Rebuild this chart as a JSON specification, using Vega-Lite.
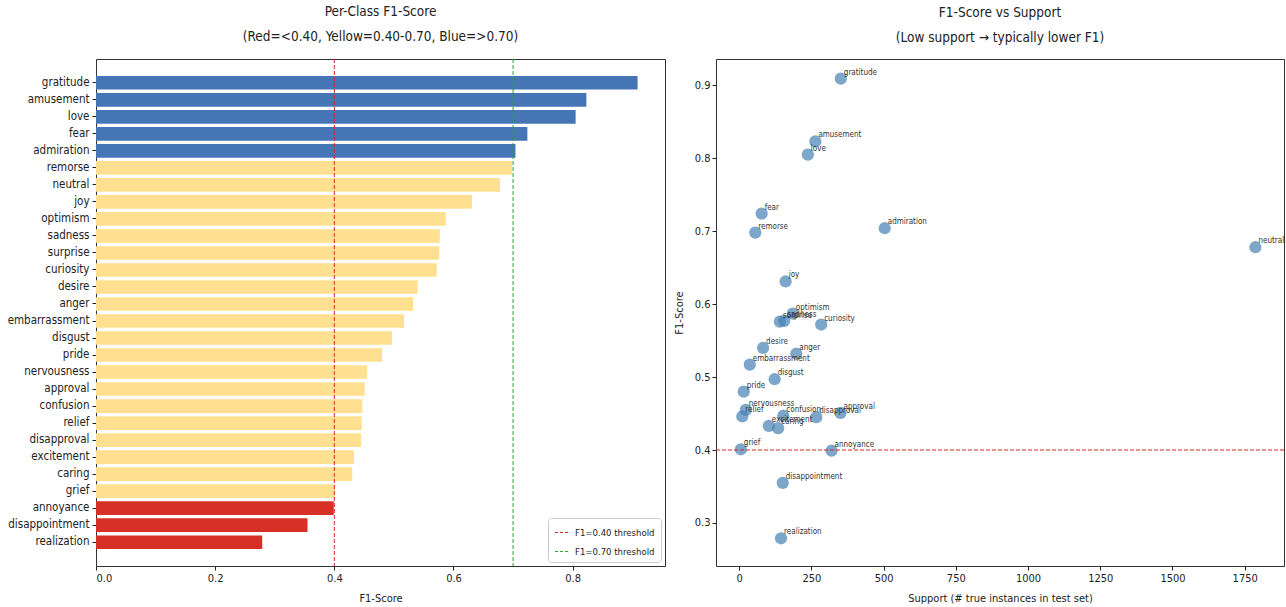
{
  "$schema": "https://vega.github.io/schema/vega-lite/v6.json",
  "background": "white",
  "padding": {"left": 6, "top": 4, "right": 4, "bottom": 4},
  "config": {
    "font": "DejaVu Sans Condensed",
    "view": {"stroke": "#333333", "strokeWidth": 1},
    "axis": {
      "grid": false,
      "domain": false,
      "tickColor": "#222222",
      "tickSize": 4,
      "labelColor": "#222222",
      "labelFontSize": 11,
      "titleFontSize": 11,
      "titleFontWeight": "normal",
      "titleColor": "#222222"
    },
    "title": {"fontSize": 13.5, "fontWeight": "normal", "color": "#222222", "lineHeight": 25, "offset": 15},
    "concat": {"spacing": 6}
  },
  "resolve": {"legend": {"stroke": "independent"}, "scale": {"stroke": "independent"}},
  "datasets": {
    "emotions": [
      {"emotion": "gratitude", "f1": 0.909, "support": 352, "tier": "high"},
      {"emotion": "amusement", "f1": 0.823, "support": 264, "tier": "high"},
      {"emotion": "love", "f1": 0.805, "support": 238, "tier": "high"},
      {"emotion": "fear", "f1": 0.724, "support": 78, "tier": "high"},
      {"emotion": "admiration", "f1": 0.704, "support": 504, "tier": "high"},
      {"emotion": "remorse", "f1": 0.698, "support": 56, "tier": "mid"},
      {"emotion": "neutral", "f1": 0.678, "support": 1787, "tier": "mid"},
      {"emotion": "joy", "f1": 0.631, "support": 161, "tier": "mid"},
      {"emotion": "optimism", "f1": 0.587, "support": 186, "tier": "mid"},
      {"emotion": "sadness", "f1": 0.577, "support": 156, "tier": "mid"},
      {"emotion": "surprise", "f1": 0.576, "support": 141, "tier": "mid"},
      {"emotion": "curiosity", "f1": 0.572, "support": 284, "tier": "mid"},
      {"emotion": "desire", "f1": 0.540, "support": 83, "tier": "mid"},
      {"emotion": "anger", "f1": 0.532, "support": 198, "tier": "mid"},
      {"emotion": "embarrassment", "f1": 0.517, "support": 37, "tier": "mid"},
      {"emotion": "disgust", "f1": 0.497, "support": 123, "tier": "mid"},
      {"emotion": "pride", "f1": 0.480, "support": 16, "tier": "mid"},
      {"emotion": "nervousness", "f1": 0.455, "support": 23, "tier": "mid"},
      {"emotion": "approval", "f1": 0.451, "support": 351, "tier": "mid"},
      {"emotion": "confusion", "f1": 0.447, "support": 153, "tier": "mid"},
      {"emotion": "relief", "f1": 0.446, "support": 11, "tier": "mid"},
      {"emotion": "disapproval", "f1": 0.445, "support": 267, "tier": "mid"},
      {"emotion": "excitement", "f1": 0.433, "support": 103, "tier": "mid"},
      {"emotion": "caring", "f1": 0.430, "support": 135, "tier": "mid"},
      {"emotion": "grief", "f1": 0.401, "support": 6, "tier": "mid"},
      {"emotion": "annoyance", "f1": 0.399, "support": 320, "tier": "low"},
      {"emotion": "disappointment", "f1": 0.355, "support": 151, "tier": "low"},
      {"emotion": "realization", "f1": 0.279, "support": 145, "tier": "low"}
    ],
    "thresholds": [
      {"label": "F1=0.40 threshold", "value": 0.4},
      {"label": "F1=0.70 threshold", "value": 0.7}
    ]
  },
  "hconcat": [
    {
      "width": 569,
      "height": 507,
      "title": {"text": ["Per-Class F1-Score", "(Red=<0.40, Yellow=0.40-0.70, Blue=>0.70)"]},
      "layer": [
        {
          "data": {"name": "emotions"},
          "mark": {"type": "bar"},
          "encoding": {
            "y": {
              "field": "emotion",
              "type": "nominal",
              "sort": {"field": "f1", "order": "descending"},
              "scale": {"paddingInner": 0.2, "paddingOuter": 1.39},
              "axis": {"title": null, "labelFontSize": 11.5, "labelPadding": 3}
            },
            "x": {
              "field": "f1",
              "type": "quantitative",
              "scale": {"domain": [0, 0.955], "nice": false, "zero": true},
              "axis": {"title": "F1-Score", "values": [0, 0.2, 0.4, 0.6, 0.8], "format": ".1f", "titlePadding": 9}
            },
            "fill": {
              "field": "tier",
              "type": "nominal",
              "scale": {"domain": ["low", "mid", "high"], "range": ["#d73027", "#fee090", "#4575b4"]},
              "legend": null
            }
          }
        },
        {
          "data": {"name": "thresholds"},
          "mark": {"type": "rule", "strokeDash": [4, 2], "strokeWidth": 1},
          "encoding": {
            "x": {"field": "value", "type": "quantitative"},
            "stroke": {
              "field": "label",
              "type": "nominal",
              "scale": {"domain": ["F1=0.40 threshold", "F1=0.70 threshold"], "range": ["#d62728", "#2ca02c"]},
              "legend": {
                "title": null,
                "orient": "bottom-right",
                "offset": 4,
                "symbolType": "stroke",
                "symbolDash": [3, 2],
                "symbolStrokeWidth": 1.2,
                "symbolSize": 220,
                "labelFontSize": 9.5,
                "labelColor": "#222222",
                "fillColor": "white",
                "strokeColor": "#cccccc",
                "cornerRadius": 3,
                "padding": 6,
                "rowPadding": 6
              }
            }
          }
        }
      ]
    },
    {
      "width": 568,
      "height": 507,
      "title": {"text": ["F1-Score vs Support", "(Low support \u2192 typically lower F1)"]},
      "layer": [
        {
          "data": {"name": "emotions"},
          "mark": {"type": "circle", "size": 150, "color": "#4682b4", "opacity": 0.7},
          "encoding": {
            "x": {
              "field": "support",
              "type": "quantitative",
              "scale": {"domain": [-80, 1886], "nice": false, "zero": false},
              "axis": {"title": "Support (# true instances in test set)", "values": [0, 250, 500, 750, 1000, 1250, 1500, 1750], "format": "d", "titlePadding": 9}
            },
            "y": {
              "field": "f1",
              "type": "quantitative",
              "scale": {"domain": [0.241, 0.936], "nice": false, "zero": false},
              "axis": {"title": "F1-Score", "values": [0.3, 0.4, 0.5, 0.6, 0.7, 0.8, 0.9], "format": ".1f", "titlePadding": 10}
            }
          }
        },
        {
          "data": {"name": "emotions"},
          "mark": {"type": "text", "align": "left", "baseline": "bottom", "dx": 3, "dy": -2, "fontSize": 8, "color": "#333333"},
          "encoding": {
            "x": {"field": "support", "type": "quantitative"},
            "y": {"field": "f1", "type": "quantitative"},
            "text": {"field": "emotion"}
          }
        },
        {
          "data": {"name": "thresholds"},
          "transform": [{"filter": "datum.value == 0.4"}],
          "mark": {"type": "rule", "color": "#d62728", "strokeDash": [4, 2], "strokeWidth": 1},
          "encoding": {
            "y": {"field": "value", "type": "quantitative"}
          }
        }
      ]
    }
  ]
}
